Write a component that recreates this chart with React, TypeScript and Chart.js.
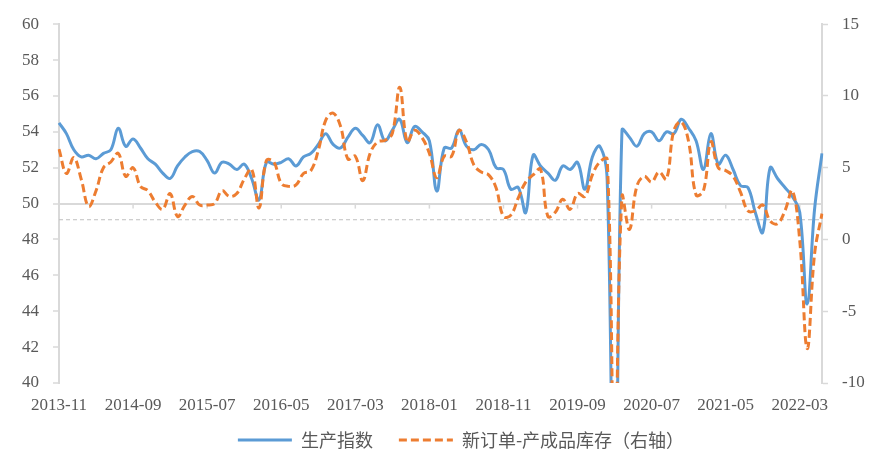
import React, { useEffect, useRef } from 'react';
import { Chart, registerables } from 'chart.js';

Chart.register(...registerables);

// ---- data ----
const START_YEAR = 2013;
const START_MONTH = 11;
const MONTH_COUNT = 104;
const months: string[] = [];
for (let k = 0; k < MONTH_COUNT; k++) {
  const m = START_MONTH - 1 + k;
  const y = START_YEAR + Math.floor(m / 12);
  const mm = (m % 12) + 1;
  months.push(`${y}-${String(mm).padStart(2, '0')}`);
}
const LABEL_STEP = 10;

// 生产指数 (left axis)
const productionIndex = [
  54.5, 53.9, 53.0, 52.6, 52.7, 52.5, 52.8, 53.0, 54.2, 53.2, 53.6, 53.1, 52.5, 52.2,
  51.7, 51.4, 52.1, 52.6, 52.9, 52.9, 52.4, 51.7, 52.3, 52.2, 51.9, 52.2,
  51.4, 50.2, 52.3, 52.2, 52.3, 52.5, 52.1, 52.6, 52.8, 53.3, 53.9, 53.3,
  53.1, 53.7, 54.2, 53.8, 53.4, 54.4, 53.5, 54.1, 54.7, 53.4, 54.3, 54.0,
  53.5, 50.7, 53.1, 53.1, 54.1, 53.2, 53.0, 53.3, 53.0, 52.0, 51.9, 50.8,
  50.9, 49.5, 52.7, 52.1, 51.7, 51.3, 52.1, 51.9, 52.3, 50.8, 52.6, 53.2,
  51.3, 27.8, 54.1, 53.7, 53.2, 53.9, 54.0, 53.5, 54.0, 53.9, 54.7, 54.2,
  53.5, 51.9, 53.9, 52.2, 52.7, 51.9, 51.0, 50.9, 49.5, 48.4, 52.0, 51.4,
  50.9, 50.4, 49.5, 44.4, 49.7, 52.8,
];

// 新订单-产成品库存 (right axis)
const ordersMinusInventory = [
  6.3, 4.6, 5.7, 4.2, 2.3, 3.4, 5.0, 5.4, 6.0, 4.4, 5.0, 3.7, 3.4, 2.6,
  2.1, 3.2, 1.6, 2.4, 3.0, 2.4, 2.4, 2.5, 3.4, 3.0, 3.2, 4.2,
  4.9, 2.2, 5.5, 5.4, 3.9, 3.7, 3.8, 4.6, 4.8, 6.2, 8.3, 8.8,
  7.9, 5.6, 5.8, 4.1, 6.0, 6.8, 6.9, 7.4, 10.6, 6.8, 7.6, 7.1,
  6.0, 4.3, 5.8, 5.8, 7.6, 6.8, 5.2, 4.7, 4.5, 3.6, 1.6, 1.7,
  2.9, 4.0, 4.5, 4.9, 1.6, 1.9, 2.8, 2.1, 3.2, 3.0, 4.5, 5.4,
  5.6, -16.8, 3.0, 0.7, 3.7, 4.4, 4.0, 4.7, 4.2, 7.6, 8.2, 6.8,
  3.1, 3.4, 6.8, 5.0, 4.8, 4.4, 3.3, 2.0, 2.0, 2.4, 1.3, 1.1,
  2.0, 3.4, -0.1, -7.6, -1.0, 1.8,
];

const LEFT_MIN = 40;
const LEFT_MAX = 60;
const LEFT_STEP = 2;
const RIGHT_MIN = -10;
const RIGHT_MAX = 15;
const RIGHT_STEP = 5;
const AXIS_CROSS = 50;
const REF_LEVEL = 49.1;

const SERIES_NAMES = ['生产指数', '新订单-产成品库存（右轴）'];

// ---- style ----
const BLUE = '#5B9BD5';
const ORANGE = '#ED7D31';
const AXIS_GRAY = '#D9D9D9';
const TEXT_GRAY = '#595959';
const NUM_FONT = "'Liberation Serif', 'DejaVu Serif', serif";
const CJK_FONT = "'Noto Sans CJK SC', 'Noto Sans', sans-serif";
const LEGEND_DX = 8;
const LEGEND_DY = -11;

const extraLines = {
  id: 'extraLines',
  afterLayout(chart: any) {
    const lg = chart.legend;
    if (lg) {
      lg.left += LEGEND_DX;
      lg.right += LEGEND_DX;
      lg.top += LEGEND_DY;
      lg.bottom += LEGEND_DY;
    }
  },
  beforeDatasetsDraw(chart: any) {
    const { ctx, chartArea } = chart;
    const y = chart.scales.y;
    const x = chart.scales.x;
    ctx.save();
    // dashed reference line
    const ry = y.getPixelForValue(REF_LEVEL);
    ctx.strokeStyle = '#BFBFBF';
    ctx.lineWidth = 1;
    ctx.setLineDash([4, 3]);
    ctx.beginPath();
    ctx.moveTo(chartArea.left, ry);
    ctx.lineTo(chartArea.right, ry);
    ctx.stroke();
    // category tick marks on the crossing line
    ctx.setLineDash([]);
    ctx.strokeStyle = AXIS_GRAY;
    ctx.lineWidth = 1.5;
    const ay = y.getPixelForValue(AXIS_CROSS);
    for (let i = LABEL_STEP; i < months.length; i += LABEL_STEP) {
      const px = x.getPixelForValue(i);
      ctx.beginPath();
      ctx.moveTo(px, ay);
      ctx.lineTo(px, ay + 5);
      ctx.stroke();
    }
    ctx.restore();
  },
};

export default function App() {
  const ref = useRef<HTMLCanvasElement>(null);
  useEffect(() => {
    const chart = new Chart(ref.current as HTMLCanvasElement, {
      type: 'line',
      data: {
        labels: months,
        datasets: [
          {
            label: SERIES_NAMES[0],
            data: productionIndex,
            yAxisID: 'y',
            borderColor: BLUE,
            backgroundColor: BLUE,
            borderWidth: 3,
            pointRadius: 0,
            tension: 0.4,
            fill: false,
            order: 1,
          },
          {
            label: SERIES_NAMES[1],
            data: ordersMinusInventory,
            yAxisID: 'y1',
            borderColor: ORANGE,
            backgroundColor: ORANGE,
            borderWidth: 3,
            borderDash: [8, 4],
            pointRadius: 0,
            tension: 0.4,
            fill: false,
            order: 0,
          },
        ],
      },
      options: {
        animation: false,
        responsive: false,
        devicePixelRatio: 1,
        elements: { line: { capBezierPoints: false } },
        layout: { padding: { left: 20, right: 0, top: 24, bottom: 2 } },
        plugins: {
          tooltip: { enabled: false },
          legend: {
            position: 'bottom',
            labels: {
              usePointStyle: true,
              pointStyleWidth: 54,
              padding: 26,
              color: TEXT_GRAY,
              font: { family: CJK_FONT, size: 18 },
              generateLabels: (c: any) =>
                c.data.datasets.map((ds: any, i: number) => ({
                  text: ds.label,
                  fillStyle: ds.borderColor,
                  strokeStyle: ds.borderColor,
                  lineWidth: 3,
                  lineDash: ds.borderDash || [],
                  lineCap: 'butt',
                  pointStyle: 'line',
                  hidden: false,
                  datasetIndex: i,
                  fontColor: TEXT_GRAY,
                })),
            },
          },
        },
        scales: {
          x: {
            type: 'category',
            grid: { display: false, drawTicks: false },
            border: { display: false },
            ticks: {
              autoSkip: false,
              maxRotation: 0,
              minRotation: 0,
              padding: 12,
              color: TEXT_GRAY,
              font: { family: NUM_FONT, size: 17 },
              callback: function (this: any, v: any, i: number) {
                return i % LABEL_STEP === 0 ? this.getLabelForValue(v) : '';
              },
            },
            afterFit: (s: any) => {
              s.height = 33;
            },
          },
          y: {
            position: 'left',
            min: LEFT_MIN,
            max: LEFT_MAX,
            ticks: {
              stepSize: LEFT_STEP,
              padding: 14,
              color: TEXT_GRAY,
              font: { family: NUM_FONT, size: 17 },
            },
            grid: {
              color: (ctx: any) =>
                ctx.tick && ctx.tick.value === AXIS_CROSS ? AXIS_GRAY : 'rgba(0,0,0,0)',
              lineWidth: 2,
              tickColor: AXIS_GRAY,
              tickLength: 6,
              tickWidth: 1.5,
            },
            border: { color: AXIS_GRAY, width: 2 },
            afterFit: (s: any) => {
              s.width = 39;
            },
          },
          y1: {
            position: 'right',
            min: RIGHT_MIN,
            max: RIGHT_MAX,
            ticks: {
              stepSize: RIGHT_STEP,
              padding: 14,
              color: TEXT_GRAY,
              font: { family: NUM_FONT, size: 17 },
            },
            grid: {
              drawOnChartArea: false,
              tickColor: AXIS_GRAY,
              tickLength: 6,
              tickWidth: 1.5,
            },
            border: { color: AXIS_GRAY, width: 2 },
            afterFit: (s: any) => {
              s.width = 64;
            },
          },
        },
      } as any,
      plugins: [extraLines],
    });
    return () => chart.destroy();
  }, []);

  return (
    <div style={{ position: 'absolute', left: 0, top: 0, width: 886, height: 472, background: '#fff' }}>
      <canvas ref={ref} width={886} height={472} style={{ display: 'block' }} />
    </div>
  );
}
